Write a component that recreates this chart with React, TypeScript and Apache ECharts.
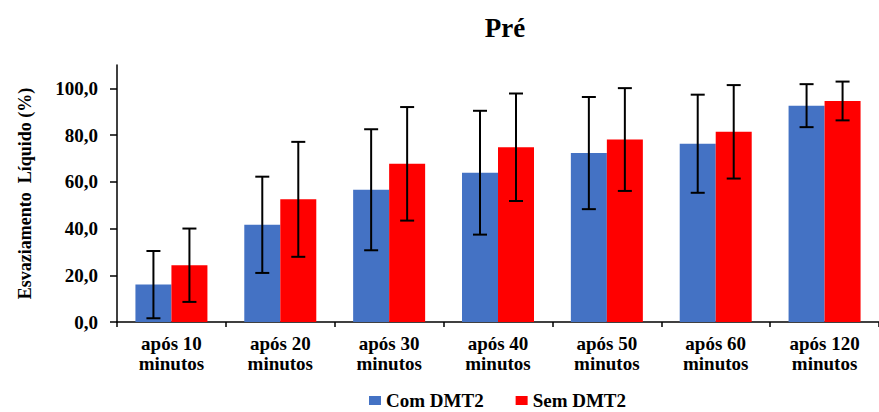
import React, { useEffect, useRef } from "react";
import * as echarts from "echarts";

// Gastric emptying (%) per time point, with standard deviations
const categories = [
  "após 10\nminutos",
  "após 20\nminutos",
  "após 30\nminutos",
  "após 40\nminutos",
  "após 50\nminutos",
  "após 60\nminutos",
  "após 120\nminutos",
];
const comDMT2 = [16.0, 41.6, 56.6, 63.9, 72.3, 76.3, 92.6];
const comDMT2Sd = [14.4, 20.6, 25.9, 26.5, 24.0, 21.0, 9.2];
const semDMT2 = [24.3, 52.5, 67.7, 74.8, 78.1, 81.4, 94.6];
const semDMT2Sd = [15.7, 24.6, 24.3, 23.0, 22.0, 20.0, 8.3];
const yTicks = [0, 20, 40, 60, 80, 100];

const FONT = '"Liberation Serif", "Times New Roman", serif';
const BAR_W = 36;

function errorBars(means: number[], sds: number[], offset: number) {
  return {
    type: "custom",
    z: 10,
    silent: true,
    data: means.map((m, i) => [i, m - sds[i], m + sds[i]]),
    encode: { x: 0, y: [1, 2] },
    renderItem: (_params: any, api: any) => {
      const lo = api.coord([api.value(0), api.value(1)]);
      const hi = api.coord([api.value(0), api.value(2)]);
      const x = lo[0] + offset;
      const style = { stroke: "#000", lineWidth: 2 };
      return {
        type: "group",
        children: [
          { type: "line", shape: { x1: x, y1: hi[1], x2: x, y2: lo[1] }, style },
          { type: "line", shape: { x1: x - 7, y1: hi[1], x2: x + 7, y2: hi[1] }, style },
          { type: "line", shape: { x1: x - 7, y1: lo[1], x2: x + 7, y2: lo[1] }, style },
        ],
      };
    },
  };
}

export default function App() {
  const ref = useRef<HTMLDivElement>(null);

  useEffect(() => {
    if (!ref.current) return;
    const chart = echarts.init(ref.current, undefined, { renderer: "svg" });
    chart.setOption({
      animation: false,
      backgroundColor: "#fff",
      title: {
        text: "Pré",
        left: 500,
        top: 9,
        textAlign: "center",
        textStyle: { fontFamily: FONT, fontWeight: "bold", fontSize: 27, color: "#000" },
      },
      legend: {
        data: ["Com DMT2", "Sem DMT2"],
        left: 364,
        top: 386,
        icon: "rect",
        itemWidth: 12,
        itemHeight: 9,
        itemGap: 32,
        textStyle: { fontFamily: FONT, fontWeight: "bold", fontSize: 19, lineHeight: 19, color: "#000" },
      },
      grid: { left: 117, right: -10, top: 65, bottom: 90, containLabel: false },
      xAxis: {
        type: "category",
        data: categories,
        axisLine: { lineStyle: { color: "#000", width: 1.5 } },
        axisTick: { show: true, length: 5, lineStyle: { color: "#000", width: 1.5 } },
        axisLabel: {
          interval: 0,
          margin: 11,
          fontFamily: FONT,
          fontWeight: "bold",
          fontSize: 19,
          lineHeight: 20,
          color: "#000",
        },
      },
      yAxis: {
        type: "value",
        min: 0,
        max: 110,
        interval: 20,
        name: "Esvaziamento  Líquido (%)",
        nameLocation: "middle",
        nameRotate: 90,
        nameGap: 83,
        nameTextStyle: { fontFamily: FONT, fontWeight: "bold", fontSize: 18, color: "#000" },
        splitLine: { show: false },
        axisLine: { show: true, lineStyle: { color: "#000", width: 1.5 } },
        axisTick: {
          show: true,
          length: 7,
          customValues: yTicks,
          lineStyle: { color: "#000", width: 1.5 },
        },
        axisLabel: {
          margin: 19,
          customValues: yTicks,
          fontFamily: FONT,
          fontWeight: "bold",
          fontSize: 19,
          color: "#000",
          formatter: (v: number) => v.toFixed(1).replace(".", ","),
        },
      },
      series: [
        {
          name: "Com DMT2",
          type: "bar",
          data: comDMT2,
          barWidth: BAR_W,
          barGap: "0%",
          itemStyle: { color: "#4472C4" },
        },
        {
          name: "Sem DMT2",
          type: "bar",
          data: semDMT2,
          barWidth: BAR_W,
          barGap: "0%",
          itemStyle: { color: "#FF0000" },
        },
        errorBars(comDMT2, comDMT2Sd, -BAR_W / 2),
        errorBars(semDMT2, semDMT2Sd, BAR_W / 2),
      ],
    });
    return () => chart.dispose();
  }, []);

  return (
    <div
      ref={ref}
      style={{ position: "fixed", left: 0, top: 0, width: 879, height: 412 }}
    />
  );
}
